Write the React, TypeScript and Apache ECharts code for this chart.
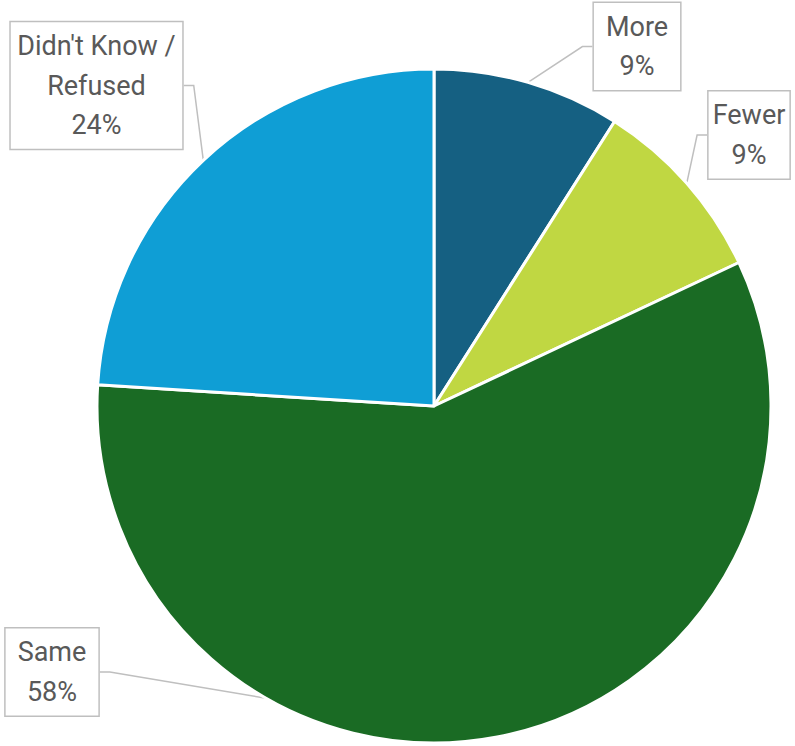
import React, { useEffect, useRef } from "react";
import * as echarts from "echarts";

const categories = ["More", "Fewer", "Same", "Didn't Know / Refused"];
const labelNames = ["More", "Fewer", "Same", "Didn't Know /\nRefused"];
const values = [9, 9, 58, 24];
const colors = ["#156082", "#c0d742", "#1a6b24", "#0f9ed5"];

// label box centres (layout only)
const labelPos: [number, number][] = [
  [637, 46.5],
  [749, 135],
  [52, 672],
  [96.5, 85.5],
];

export default function App() {
  const ref = useRef<HTMLDivElement>(null);
  useEffect(() => {
    if (!ref.current) return;
    const chart = echarts.init(ref.current, undefined, { renderer: "svg" });
    chart.setOption({
      animation: false,
      backgroundColor: "#ffffff",
      series: [
        {
          type: "pie",
          center: [434, 406],
          radius: 337,
          startAngle: 90,
          clockwise: true,
          data: categories.map((c, i) => ({
            name: c,
            value: values[i],
            itemStyle: { color: colors[i] },
          })),
          itemStyle: { borderColor: "#ffffff", borderWidth: 3 },
          label: {
            show: true,
            position: "outside",
            overflow: "none",
            formatter: (p: any) => `${labelNames[p.dataIndex]}\n${p.value}%`,
            fontFamily: "Roboto",
            fontSize: 27,
            lineHeight: 39.5,
            color: "#595959",
            align: "center",
            backgroundColor: "#ffffff",
            borderColor: "#bfbfbf",
            borderWidth: 1.5,
            padding: [4, 12, 4, 12],
          },
          labelLine: {
            show: true,
            length: 10,
            length2: 10,
            lineStyle: { color: "#bfbfbf", width: 1.5 },
          },
          labelLayout: (params: any) => {
            const p = labelPos[params.dataIndex];
            return { x: p[0], y: p[1], align: "center", verticalAlign: "middle" };
          },
          emphasis: { disabled: true },
        },
      ],
    });
    return () => chart.dispose();
  }, []);
  return (
    <div
      ref={ref}
      style={{ position: "fixed", left: 0, top: 0, width: 795, height: 746 }}
    />
  );
}
